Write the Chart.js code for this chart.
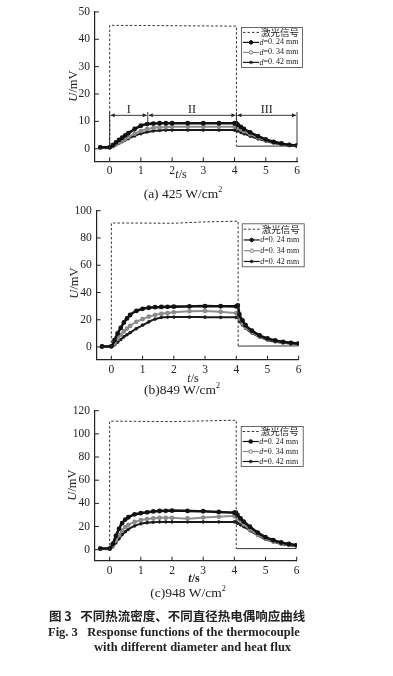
<!DOCTYPE html>
<html>
<head>
<meta charset="utf-8">
<script src="https://cdn.jsdelivr.net/npm/chart.js@4.4.1/dist/chart.umd.min.js"></script>
<style>
html, body { margin: 0; padding: 0; background: #fff; }
body { width: 393px; height: 676px; position: relative; overflow: hidden; font-family: "Liberation Serif", serif; color: #222; }
canvas { position: absolute; left: 0; }
.lbl { position: absolute; transform: translate(-50%, -50%); white-space: nowrap; line-height: 1; }
.ytitle { transform: translate(-50%, -50%) rotate(-90deg); font-size: 12.5px; }
.xtitle { font-size: 12px; }
.cap { font-size: 13.5px; }
.fig { position: absolute; white-space: nowrap; font-weight: bold; line-height: 1; }
</style>
</head>
<body>
<canvas id="chartA" width="393" height="185" style="top:0px"></canvas>
<canvas id="chartB" width="393" height="185" style="top:195px"></canvas>
<canvas id="chartC" width="393" height="185" style="top:395px"></canvas>

<div class="lbl ytitle" style="left:73px;top:86px"><i>U</i>/mV</div>
<div class="lbl xtitle" style="left:181px;top:174px"><i>t</i>/s</div>
<div class="lbl cap" style="left:183px;top:193px">(a) 425 W/cm<sup style="font-size:8px">2</sup></div>

<div class="lbl ytitle" style="left:74px;top:283px"><i>U</i>/mV</div>
<div class="lbl xtitle" style="left:193px;top:378px"><i>t</i>/s</div>
<div class="lbl cap" style="left:182px;top:389px">(b)849 W/cm<sup style="font-size:8px">2</sup></div>

<div class="lbl ytitle" style="left:72px;top:485px"><i>U</i>/mV</div>
<div class="lbl xtitle" style="left:194px;top:578px;font-weight:bold"><i>t</i>/s</div>
<div class="lbl cap" style="left:188px;top:592px">(c)948 W/cm<sup style="font-size:8px">2</sup></div>

<div class="fig" style="left:49px;top:610px;font-family:'Noto Sans CJK SC';font-size:12.5px">图 3&nbsp;&nbsp;&nbsp;不同热流密度、不同直径热电偶响应曲线</div>
<div class="fig" style="left:48px;top:626px;font-size:12.5px">Fig. 3&nbsp;&nbsp;&nbsp;Response functions of the thermocouple</div>
<div class="fig" style="left:94px;top:641px;font-size:12.5px">with different diameter and heat flux</div>

<script>
// ---------------------------------------------------------------
// Data
// ---------------------------------------------------------------
const TIME = [-0.3, 0, 0.1, 0.2, 0.3, 0.4, 0.5, 0.6, 0.8, 1.0, 1.2, 1.4, 1.6, 1.8, 2.0,
              2.5, 3.0, 3.5, 4.0, 4.05, 4.1, 4.2, 4.3, 4.5, 4.75, 5.0, 5.25, 5.5, 5.75, 6.0];
const X_TICKS = [0, 1, 2, 3, 4, 5, 6];
const LASER_OFF_T = 4.06;
const SERIES_NAMES = ['激光信号', 'd=0. 24 mm', 'd=0. 34 mm', 'd=0. 42 mm'];

// (a) 425 W/cm2
const A_Y_TICKS = [0, 10, 20, 30, 40, 50];
const A_LASER_T = [-0.3, 0, 0, 4.06, 4.06, 6];
const A_LASER_U = [0, 0, 45.1, 44.8, 0.9, 1.0];
const A_D024 = [0.5, 0.5, 1.3, 2.3, 3.2, 4.0, 4.9, 5.7, 7.2, 8.4, 9.0, 9.2, 9.3, 9.3, 9.3,
                9.3, 9.3, 9.3, 9.3, 9.3, 8.8, 8.0, 7.2, 6.0, 4.6, 3.4, 2.5, 1.9, 1.4, 1.2];
const A_D034 = [0.5, 0.5, 0.9, 1.6, 2.3, 3.0, 3.7, 4.3, 5.5, 6.5, 7.2, 7.6, 7.8, 7.9, 8.0,
                8.0, 8.0, 8.0, 8.0, 8.0, 7.6, 7.0, 6.4, 5.3, 4.1, 3.1, 2.3, 1.8, 1.4, 1.1];
const A_D042 = [0.5, 0.5, 0.8, 1.4, 2.0, 2.6, 3.2, 3.7, 4.7, 5.5, 6.1, 6.5, 6.7, 6.8, 6.8,
                6.8, 6.8, 6.8, 6.8, 6.8, 6.5, 6.0, 5.5, 4.6, 3.6, 2.8, 2.1, 1.6, 1.3, 1.0];
const A_REGION_T = [0, 1.22, 4.06, 6];
const A_REGION_NAMES = ['I', 'II', 'III'];
const A_REGION_BAR_LOW = [0.5, 8.6, 9.3, 1.0];

// (b) 849 W/cm2
const B_Y_TICKS = [0, 20, 40, 60, 80, 100];
const B_LASER_T = [-0.3, 0, 0, 2.0, 3.0, 4.06, 4.06, 6];
const B_LASER_U = [0, 0, 91, 90.8, 91.8, 92.3, 0.7, 0.8];
const B_D024 = [0.4, 0.5, 5, 10, 14, 18, 21, 23.5, 26.5, 28, 28.8, 29.2, 29.4, 29.5, 29.6,
                29.8, 30, 29.9, 29.8, 30.5, 24, 19.5, 16, 12, 8.5, 6.3, 4.8, 3.8, 3.1, 2.7];
const B_D034 = [0.4, 0.5, 2.5, 6, 9, 11.5, 13.5, 15.5, 18.5, 20.5, 22.3, 23.5, 24.4, 25, 25.5,
                26.2, 26.5, 25.8, 25, 25.2, 21, 17.2, 14.3, 10.8, 7.7, 5.6, 4.3, 3.4, 2.8, 2.4];
const B_D042 = [0.4, 0.5, 1.5, 3.5, 5.5, 7.5, 9, 10.5, 13.5, 16, 18.5, 20.5, 21.7, 22, 22,
                22, 21.9, 21.8, 21.8, 22, 19, 16.2, 13.8, 10.3, 7.3, 5.2, 3.9, 3.1, 2.5, 2.1];

// (c) 948 W/cm2
const C_Y_TICKS = [0, 20, 40, 60, 80, 100, 120];
const C_LASER_T = [-0.3, 0, 0, 2.0, 4.06, 4.06, 6];
const C_LASER_U = [0, 0, 111, 110.6, 111.8, 0.9, 1.0];
const C_D024 = [1, 1, 5, 12, 18, 23, 26, 28, 30.5, 31.5, 32.3, 33, 33.4, 33.6, 33.7,
                33.5, 33.2, 32.6, 32, 32, 30, 27, 24.3, 19.8, 14.8, 10.8, 8.2, 6.2, 4.9, 4.0];
const C_D034 = [1, 1, 3.5, 8, 12.5, 16.5, 19.5, 21.5, 24, 25.5, 26.5, 27, 27.5, 27.5, 27.5,
                27, 27.8, 28.5, 29, 29, 27, 24.5, 22, 17.5, 13, 9.5, 7, 5.3, 4.2, 3.5];
const C_D042 = [1, 1, 2.5, 6, 9.5, 13, 15.5, 17.5, 20.5, 22.5, 23.3, 23.7, 24, 24, 24,
                24, 24, 24, 24, 24, 23, 21.5, 20, 16.5, 12.5, 9, 6.8, 5, 3.8, 3];

// ---------------------------------------------------------------
// Helpers
// ---------------------------------------------------------------
const pairs = (ts, vs) => ts.map((t, i) => ({ x: t, y: vs[i] }));

function drawMarker(ctx, style, x, y, r, color, fill) {
    ctx.save();
    ctx.strokeStyle = color;
    ctx.fillStyle = fill;
    ctx.lineWidth = 1;
    ctx.beginPath();
    if (style === 'circle') {
        ctx.arc(x, y, r, 0, Math.PI * 2);
        ctx.fill();
        ctx.stroke();
    } else if (style === 'star') {
        for (let k = 0; k < 4; k++) {
            const a = k * Math.PI / 4;
            ctx.moveTo(x - r * Math.cos(a), y - r * Math.sin(a));
            ctx.lineTo(x + r * Math.cos(a), y + r * Math.sin(a));
        }
        ctx.stroke();
    }
    ctx.restore();
}

// inward tick marks on both axes
const inwardTicks = {
    id: 'inwardTicks',
    afterDraw(chart) {
        const { ctx, chartArea: a, scales } = chart;
        ctx.save();
        ctx.strokeStyle = '#222';
        ctx.lineWidth = 1;
        ctx.beginPath();
        scales.x.ticks.forEach(t => {
            const px = scales.x.getPixelForValue(t.value);
            ctx.moveTo(px, a.bottom);
            ctx.lineTo(px, a.bottom - 4);
        });
        scales.y.ticks.forEach(t => {
            const py = scales.y.getPixelForValue(t.value);
            ctx.moveTo(a.left, py);
            ctx.lineTo(a.left + 4, py);
        });
        ctx.stroke();
        ctx.restore();
    }
};

// framed legend in the upper right corner
const boxLegend = {
    id: 'boxLegend',
    afterDraw(chart, args, opts) {
        const { ctx, chartArea: a } = chart;
        const x0 = a.right + opts.dx, y0 = a.top + opts.dy, w = opts.w, h = opts.h;
        const rowH = h / 4;
        ctx.save();
        ctx.fillStyle = '#fff';
        ctx.fillRect(x0, y0, w, h);
        ctx.strokeStyle = '#444';
        ctx.lineWidth = 0.8;
        ctx.strokeRect(x0 + 0.5, y0 + 0.5, w, h);
        ctx.textBaseline = 'middle';
        chart.data.datasets.forEach((ds, i) => {
            const cy = y0 + rowH * (i + 0.55);
            ctx.strokeStyle = ds.borderColor;
            ctx.lineWidth = i === 0 ? 1 : 1.2;
            ctx.setLineDash(ds.borderDash || []);
            ctx.beginPath();
            ctx.moveTo(x0 + 2, cy);
            ctx.lineTo(x0 + (i === 0 ? 19 : 18), cy);
            ctx.stroke();
            ctx.setLineDash([]);
            if (i > 0) drawMarker(ctx, ds.pointStyle, x0 + 10, cy, 1.8, ds.pointBorderColor, ds.pointBackgroundColor);
            ctx.fillStyle = '#222';
            if (i === 0) {
                ctx.font = '9.5px "Noto Sans CJK SC"';
                ctx.fillText(ds.label, x0 + 20, cy);
            } else {
                ctx.font = 'italic 8px "Liberation Serif"';
                ctx.fillText(ds.label[0], x0 + 18.5, cy);
                const dw = ctx.measureText(ds.label[0]).width;
                ctx.font = '8px "Liberation Serif"';
                ctx.fillText(ds.label.slice(1), x0 + 18.5 + dw, cy);
            }
        });
        ctx.restore();
    }
};

// stage markers I / II / III (chart a only)
const stageArrows = {
    id: 'stageArrows',
    afterDraw(chart, args, opts) {
        if (!opts || !opts.bounds) return;
        const { ctx, scales: { x, y } } = chart;
        const ay = y.getPixelForValue(opts.arrowY);
        const top = y.getPixelForValue(opts.barTop);
        ctx.save();
        ctx.strokeStyle = '#222';
        ctx.fillStyle = '#222';
        ctx.lineWidth = 0.9;
        opts.bounds.forEach((t, i) => {
            const px = x.getPixelForValue(t);
            ctx.beginPath();
            ctx.moveTo(px, top);
            ctx.lineTo(px, y.getPixelForValue(opts.barLow[i]));
            ctx.stroke();
        });
        const head = (px, dir) => {
            ctx.beginPath();
            ctx.moveTo(px, ay);
            ctx.lineTo(px - dir * 4, ay - 2);
            ctx.lineTo(px - dir * 4, ay + 2);
            ctx.closePath();
            ctx.fill();
        };
        ctx.font = '12px "Liberation Serif"';
        ctx.textAlign = 'center';
        ctx.textBaseline = 'middle';
        for (let i = 0; i < opts.bounds.length - 1; i++) {
            const p0 = x.getPixelForValue(opts.bounds[i]) + 1;
            const p1 = x.getPixelForValue(opts.bounds[i + 1]) - 1;
            ctx.beginPath();
            ctx.moveTo(p0, ay);
            ctx.lineTo(p1, ay);
            ctx.stroke();
            head(p0, -1);
            head(p1, 1);
            ctx.fillText(opts.names[i], (p0 + p1) / 2, y.getPixelForValue(opts.labelY));
        }
        ctx.restore();
    }
};

function buildDatasets(laserT, laserU, d024, d034, d042) {
    return [
        {
            label: SERIES_NAMES[0], data: pairs(laserT, laserU),
            borderColor: '#333', borderWidth: 1, borderDash: [2.5, 2], pointRadius: 0, tension: 0,
            // after switch-off the recorded signal is a flat noisy trace
            segment: { borderDash: c => (c.p0.parsed.x >= LASER_OFF_T && c.p1.parsed.x > LASER_OFF_T) ? [] : [2.5, 2] }
        },
        {
            label: SERIES_NAMES[1], data: pairs(TIME, d024),
            borderColor: '#111', borderWidth: 2.6, pointStyle: 'circle', pointRadius: 1.1,
            pointBackgroundColor: '#111', pointBorderColor: '#111', cubicInterpolationMode: 'monotone'
        },
        {
            label: SERIES_NAMES[2], data: pairs(TIME, d034),
            borderColor: '#8f8f8f', borderWidth: 2, pointStyle: 'circle', pointRadius: 1.3,
            pointBackgroundColor: '#e6e6e6', pointBorderColor: '#888', cubicInterpolationMode: 'monotone'
        },
        {
            label: SERIES_NAMES[3], data: pairs(TIME, d042),
            borderColor: '#1a1a1a', borderWidth: 2, pointStyle: 'star', pointRadius: 1.6,
            pointBackgroundColor: '#1a1a1a', pointBorderColor: '#1a1a1a', cubicInterpolationMode: 'monotone'
        }
    ];
}

function makeChart(id, cfg) {
    const tickFont = { family: 'Liberation Serif', size: 11.5 };
    return new Chart(document.getElementById(id), {
        type: 'line',
        data: { datasets: buildDatasets(cfg.laserT, cfg.laserU, cfg.d024, cfg.d034, cfg.d042) },
        options: {
            responsive: false,
            animation: false,
            layout: { padding: cfg.padding },
            scales: {
                x: {
                    type: 'linear', min: -0.47, max: 6,
                    afterBuildTicks: s => { s.ticks = X_TICKS.map(v => ({ value: v })); },
                    afterFit: s => { s.height = 16; },
                    grid: { drawOnChartArea: false, drawTicks: false },
                    border: { color: '#222', width: 1.2 },
                    ticks: { font: tickFont, color: '#222', padding: 3 }
                },
                y: {
                    min: cfg.yMin, max: cfg.yMax,
                    afterBuildTicks: s => { s.ticks = cfg.yTicks.map(v => ({ value: v })); },
                    afterFit: s => { s.width = 30; },
                    grid: { drawOnChartArea: false, drawTicks: false },
                    border: { color: '#222', width: 1.2 },
                    ticks: { font: tickFont, color: '#222', padding: 5 }
                }
            },
            plugins: {
                legend: { display: false },
                tooltip: { enabled: false },
                boxLegend: cfg.legend,
                stageArrows: cfg.stages || {}
            }
        },
        plugins: [inwardTicks, boxLegend, stageArrows]
    });
}

// ---------------------------------------------------------------
// Charts
// ---------------------------------------------------------------
makeChart('chartA', {
    laserT: A_LASER_T, laserU: A_LASER_U, d024: A_D024, d034: A_D034, d042: A_D042,
    yMin: -4.6, yMax: 50, yTicks: A_Y_TICKS,
    padding: { left: 65, right: 96, top: 11, bottom: 7.7 },
    legend: { dx: -56, dy: 15, w: 61, h: 40 },
    stages: {
        bounds: A_REGION_T, names: A_REGION_NAMES, barLow: A_REGION_BAR_LOW,
        barTop: 13.4, arrowY: 12.2, labelY: 14.2
    }
});

makeChart('chartB', {
    laserT: B_LASER_T, laserU: B_LASER_U, d024: B_D024, d034: B_D034, d042: B_D042,
    yMin: -9.3, yMax: 100, yTicks: B_Y_TICKS,
    padding: { left: 66.7, right: 94.3, top: 15.7, bottom: 4.3 },
    legend: { dx: -57, dy: 12.6, w: 62, h: 43 }
});

makeChart('chartC', {
    laserT: C_LASER_T, laserU: C_LASER_U, d024: C_D024, d034: C_D034, d042: C_D042,
    yMin: -9.5, yMax: 120, yTicks: C_Y_TICKS,
    padding: { left: 65, right: 96.3, top: 15.7, bottom: 3.3 },
    legend: { dx: -56, dy: 15.3, w: 62, h: 40 }
});
</script>
</body>
</html>
